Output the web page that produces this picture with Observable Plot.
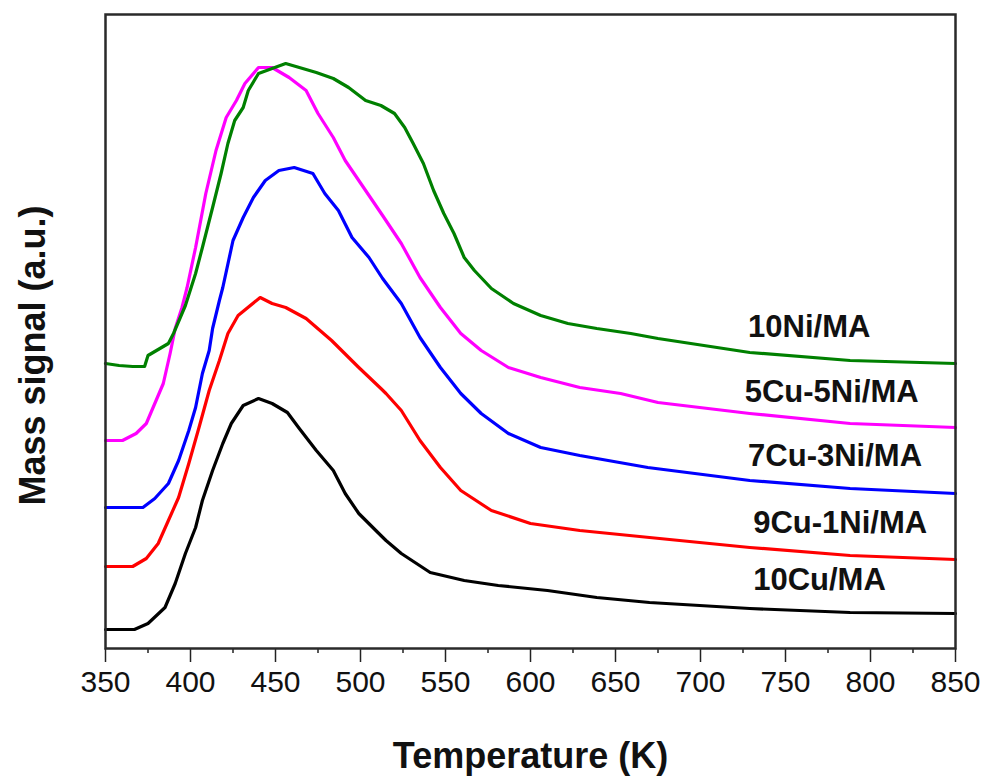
<!DOCTYPE html>
<html>
<head>
<meta charset="utf-8">
<script src="https://cdn.jsdelivr.net/npm/d3@7"></script>
<script src="https://cdn.jsdelivr.net/npm/@observablehq/plot@0.6"></script>
<style>
  html, body { margin: 0; padding: 0; background: #fff; overflow: hidden; }
  #chart svg { display: block; }
</style>
</head>
<body>
<div id="chart"></div>
<script>
// Temperature (K) and mass signal (a.u.)
const cu10T = [350,360,367,375,385,391,397,403,407,413,419,424,431,440,448,457,464,474,484,491,499,512,515,524,541,561,581,610,639,670,729,788,850];
const cu10V = [19,19,19,25,41,65,95,121,148,178,205,225,243,250,245,236,220,198,178,155,135,113,108,95,76,68,63,58,51,46,40,36,35];

const cu9ni1T = [350,366,374,381,387,393,399,405,411,417,422,428,441,448,456,468,483,499,512,515,524,535,547,559,577,600,629,670,729,788,850];
const cu9ni1V = [82,82,90,105,128,151,185,221,258,288,315,333,351,345,341,330,308,281,260,255,238,208,181,158,138,125,118,111,101,93,89];

const cu7ni3T = [350,372,379,387,393,399,403,407,411,413,417,419,425,431,437,444,452,461,472,479,487,495,505,513,524,535,547,559,571,587,606,629,669,729,788,850];
const cu7ni3V = [141,141,150,165,188,218,241,275,298,320,348,361,408,431,451,468,478,481,475,455,438,411,391,370,345,311,281,255,235,215,201,193,181,168,160,155];

const cu5ni5T = [350,360,368,374,379,384,388,391,395,398,403,409,415,421,427,432,440,448,458,468,475,484,491,499,507,513,524,535,547,559,571,587,606,629,653,675,729,788,850];
const cu5ni5V = [208,208,215,225,245,265,295,320,341,361,401,455,498,531,548,565,581,581,571,558,535,511,488,468,448,433,405,371,341,315,298,281,271,261,255,246,235,225,221];

const ni10T = [350,358,366,373,375,387,390,394,397,403,407,413,418,422,426,431,434,440,448,456,464,474,484,493,503,512,520,526,531,537,543,549,555,561,567,577,590,606,622,639,659,675,729,788,850];
const ni10V = [285,283,282,282,293,305,315,331,343,375,401,441,475,505,528,541,558,575,580,585,581,576,570,561,548,543,535,521,505,485,458,435,415,391,378,360,345,333,325,320,315,310,296,288,285];

const seriesNames = ["10Cu/MA", "9Cu-1Ni/MA", "7Cu-3Ni/MA", "5Cu-5Ni/MA", "10Ni/MA"];
const seriesColors = ["#000000", "#ff0000", "#0000ff", "#ff00ff", "#008000"];
const seriesT = [cu10T, cu9ni1T, cu7ni3T, cu5ni5T, ni10T];
const seriesV = [cu10V, cu9ni1V, cu7ni3V, cu5ni5V, ni10V];

const majorTicks = [350,400,450,500,550,600,650,700,750,800,850];
const minorTicks = [375,425,475,525,575,625,675,725,775,825];

// build tidy table
const rows = [];
seriesNames.forEach((name, k) => {
  seriesT[k].forEach((t, i) => rows.push({series: name, T: t, v: seriesV[k][i]}));
});

// label anchor points (x in K, y in a.u.)
const labelPos = [
  {name: "10Cu/MA",    T: 731, v: 68},
  {name: "9Cu-1Ni/MA", T: 731, v: 125},
  {name: "7Cu-3Ni/MA", T: 728, v: 192},
  {name: "5Cu-5Ni/MA", T: 726, v: 256},
  {name: "10Ni/MA",    T: 728, v: 321}
];

const font = "'Liberation Sans', Arial, Helvetica, sans-serif";

const chart = Plot.plot({
  width: 987,
  height: 781,
  marginLeft: 105,
  marginRight: 32,
  marginTop: 14,
  marginBottom: 133,
  style: {fontFamily: font, background: "#fff", color: "#111"},
  x: {domain: [350, 850], axis: null},
  y: {domain: [0, 634], axis: null},
  color: {domain: seriesNames, range: seriesColors},
  marks: [
    Plot.line(rows, {x: "T", y: "v", z: "series", stroke: "series", strokeWidth: 3.2, strokeLinejoin: "round"}),
    Plot.axisX(minorTicks, {tickSize: 5, tickFormat: () => "", strokeWidth: 1.5, stroke: "#222", label: null}),
    Plot.axisX(majorTicks, {tickSize: 14, tickPadding: 8, strokeWidth: 1.5, stroke: "#222", fontSize: 30, fill: "#111", tickFormat: d => String(d), label: null}),
    Plot.frame({stroke: "#2a2a2a", strokeWidth: 2.5}),
    Plot.text(labelPos, {x: "T", y: "v", text: "name", textAnchor: "start", lineAnchor: "middle", fontSize: 31, fontWeight: "bold", fill: "#111"}),
    Plot.text(["Temperature (K)"], {frameAnchor: "bottom", dy: 108, textAnchor: "middle", lineAnchor: "middle", fontSize: 36, fontWeight: "bold", fill: "#111"}),
    Plot.text(["Mass signal (a.u.)"], {frameAnchor: "left", dx: -72, dy: 24, rotate: -90, textAnchor: "middle", lineAnchor: "middle", fontSize: 36, fontWeight: "bold", fill: "#111"})
  ]
});
document.getElementById("chart").appendChild(chart);
</script>
</body>
</html>
